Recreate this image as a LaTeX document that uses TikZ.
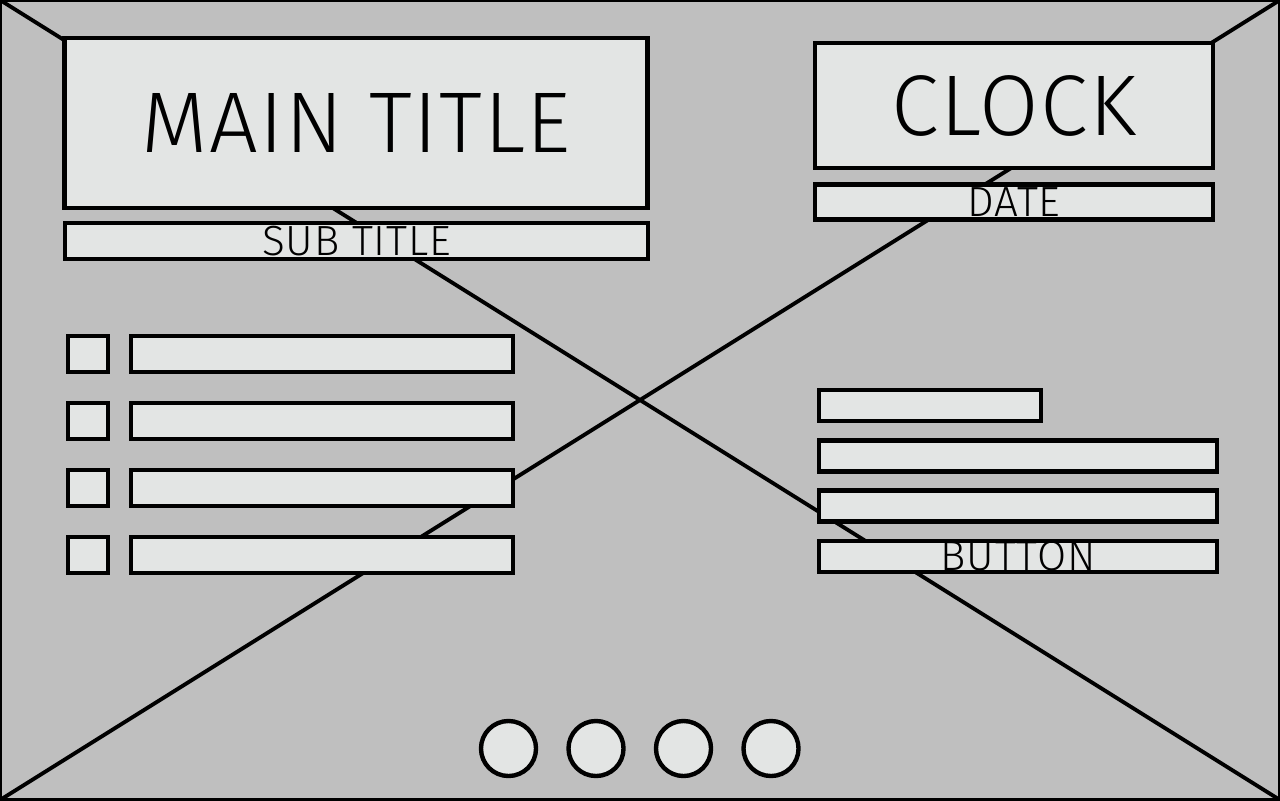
\documentclass[tikz,border=0pt]{standalone}
\usepackage{fontspec}
\setmainfont{Fira Sans}[UprightFont=* Light,LetterSpace=2]
\usetikzlibrary{positioning}
\definecolor{wallgray}{RGB}{191,191,191}
\definecolor{panel}{RGB}{227,229,228}

\begin{document}
\begin{tikzpicture}[x=0.01cm,y=-0.01cm,
    panelbox/.style={draw=black,fill=panel,line width=1.25pt,inner sep=0pt,outer sep=0pt},
    bigtext/.style={font=\fontsize{24.5}{24.5}\selectfont},
    smalltext/.style={font=\fontsize{12}{12}\selectfont}]
    \def\w{1280}
    \def\h{800}
    \useasboundingbox (0,0) rectangle (\w,\h);
    \filldraw[fill=wallgray,draw=black,line width=1.25pt] (0,0) rectangle (\w,\h);
    \coordinate (tl) at (0,0);
    \coordinate (tr) at (\w,0);
    \coordinate (bl) at (0,\h);
    \coordinate (br) at (\w,\h);
    \draw [black,line width=1.1pt] (tl) -- (br);
    \draw [black,line width=1.1pt] (tr) -- (bl);
    % header
    \node[panelbox,bigtext,minimum width=5.83cm,minimum height=1.70cm] (title) at (356,123) {MAIN TITLE};
    \node[panelbox,smalltext,minimum width=5.83cm,minimum height=0.365cm] (subtitle) at (356.5,241) {SUB TITLE};
    \node[panelbox,bigtext,minimum width=3.98cm,minimum height=1.25cm] (clock) at (1014,105.5) {CLOCK};
    \node[panelbox,smalltext,minimum width=3.98cm,minimum height=0.35cm] (date) at (1014,202) {DATE};
    % list
    \foreach \i/\y in {1/354,2/421,3/488,4/555}{
        \node[panelbox,minimum width=0.40cm,minimum height=0.36cm] (check\i) at (88,\y) {};
        \node[panelbox,minimum width=3.815cm,minimum height=0.36cm,right=0.23cm of check\i] (item\i) {};
    }
    % form
    \node[panelbox,minimum width=2.22cm,minimum height=0.31cm] (field1) at (930,405.5) {};
    \foreach \i/\y in {2/455.8,3/506.1}
        \node[panelbox,minimum width=3.98cm,minimum height=0.31cm] (field\i) at (1018,\y) {};
    \node[panelbox,smalltext,minimum width=3.98cm,minimum height=0.31cm] (button) at (1018,556.4) {BUTTON};
    % pager
    \foreach \i in {0,...,3}
        \node[panelbox,circle,minimum size=0.55cm] (dot\i) at (508.5+87.5*\i,748.5) {};
\end{tikzpicture}
\end{document}
